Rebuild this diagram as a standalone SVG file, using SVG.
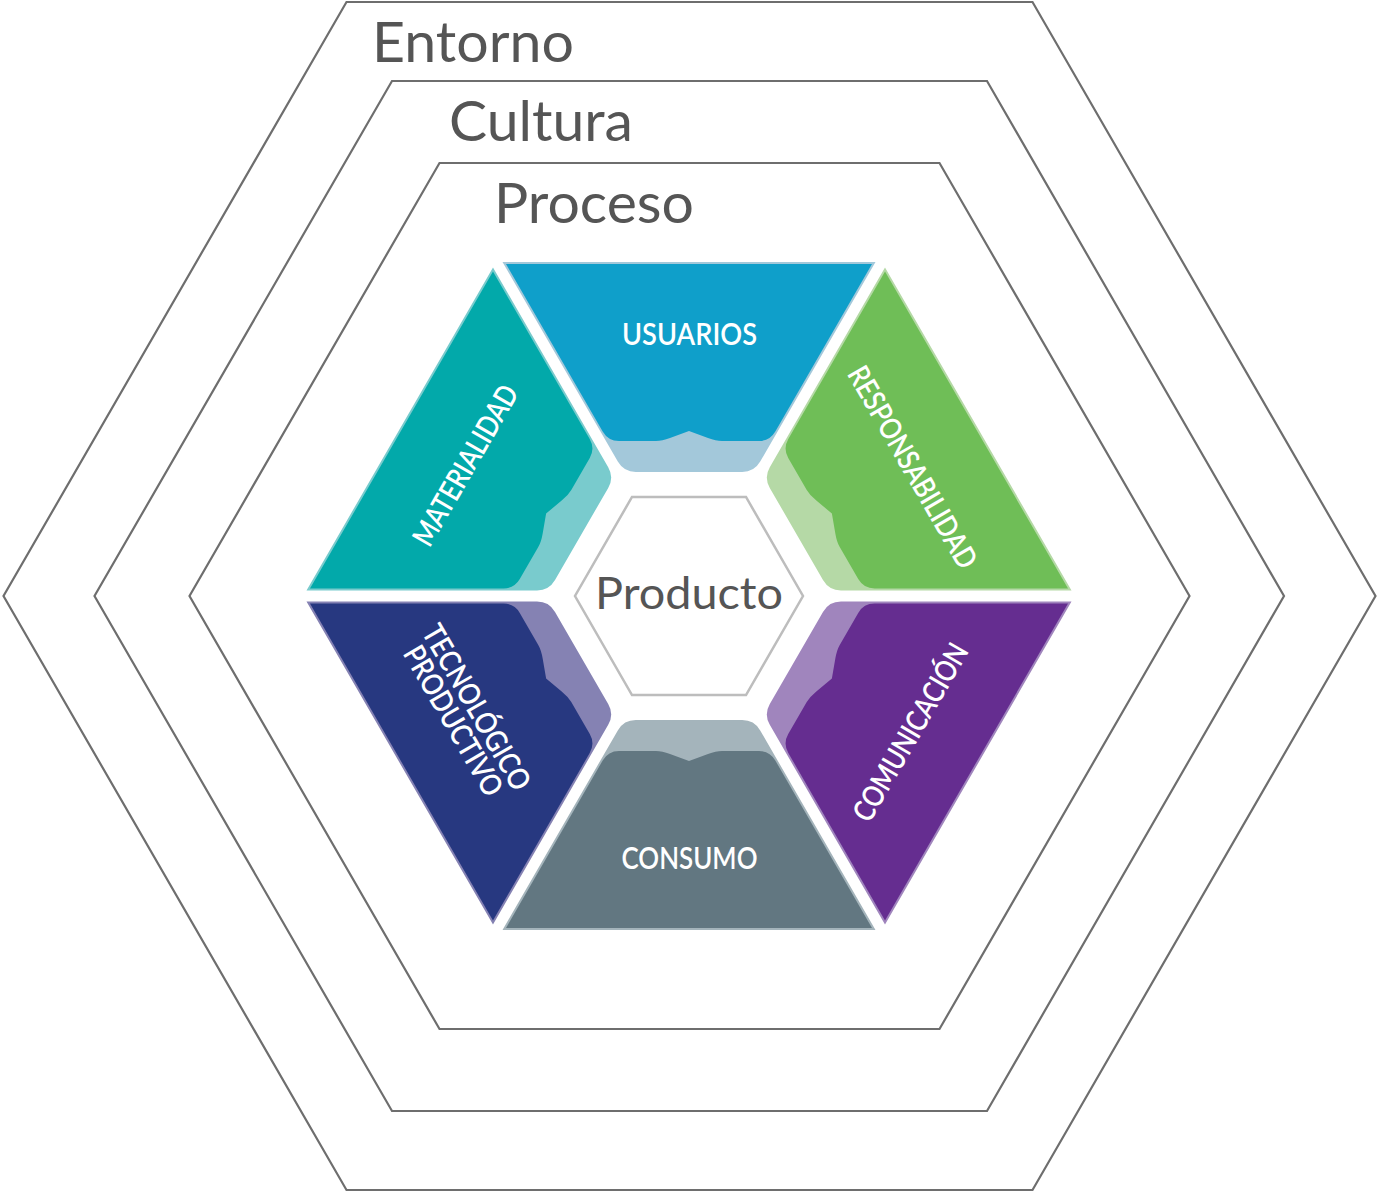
<svg xmlns="http://www.w3.org/2000/svg" xmlns:xlink="http://www.w3.org/1999/xlink" width="1377" height="1193" viewBox="0 0 1377 1193">
  <style>
    .ring { fill: none; stroke: #6e6e6e; stroke-width: 2.2; stroke-linejoin: miter; }
    .ring-label { font-family: Lato, "Liberation Sans", sans-serif; font-size: 56px; fill: #555555; }
    .seg-label { font-family: Lato, "Open Sans", "Liberation Sans", sans-serif; font-weight: 600; font-size: 30px; fill: #ffffff; }
    .core { fill: #ffffff; stroke: #bdbdbd; stroke-width: 2.5; }
    .core-label { font-family: Lato, "Liberation Sans", sans-serif; font-size: 45px; fill: #555555; }
  </style>
  <defs>
    <!-- Top segment of the coloured ring; the others are rotations of it about the centre (689,596) -->
    <path id="seg-back" d="M 502.5 262 L 875.5 262 L 760.2 461.6 Q 754.2 472 742.2 472 L 635.8 472 Q 623.8 472 617.8 461.6 Z"/>
    <path id="seg-front" d="M 506 264 L 872 264 L 775.3 431.5 Q 769.8 441 759 441 L 722 441 Q 716 441 708 438 L 689 431 L 670 438 Q 662 441 656 441 L 619 441 Q 608.2 441 602.7 431.5 Z"/>
  </defs>

  <rect x="0" y="0" width="1377" height="1193" fill="#ffffff"/>

  <!-- Concentric context layers -->
  <g id="entorno">
    <polygon class="ring" points="346.5,2 1032.5,2 1375.5,596 1032.5,1190 346.5,1190 3.5,596"/>
    <text class="ring-label" x="372" y="62" textLength="202" lengthAdjust="spacingAndGlyphs">Entorno</text>
  </g>
  <g id="cultura">
    <polygon class="ring" points="392,81 987,81 1284,596 987,1111 392,1111 94.5,596"/>
    <text class="ring-label" x="449" y="141" textLength="184" lengthAdjust="spacingAndGlyphs">Cultura</text>
  </g>
  <g id="proceso">
    <polygon class="ring" points="439.5,163 939.5,163 1189.5,596 939.5,1029 439.5,1029 189.5,596"/>
    <text class="ring-label" x="494" y="223" textLength="200" lengthAdjust="spacingAndGlyphs">Proceso</text>
  </g>

  <!-- Coloured ring segments -->
  <g id="usuarios">
    <use xlink:href="#seg-back" fill="#a3c8da"/>
    <use xlink:href="#seg-front" fill="#0f9fca"/>
    <text class="seg-label" x="689.5" y="345" text-anchor="middle" textLength="135" lengthAdjust="spacingAndGlyphs">USUARIOS</text>
  </g>
  <g id="responsabilidad">
    <use xlink:href="#seg-back" fill="#b5d9a6" transform="rotate(60 689 596)"/>
    <use xlink:href="#seg-front" fill="#6fbe57" transform="rotate(60 689 596)"/>
    <text class="seg-label" transform="translate(913 467) rotate(60)" x="0" y="11" text-anchor="middle" textLength="228" lengthAdjust="spacingAndGlyphs">RESPONSABILIDAD</text>
  </g>
  <g id="comunicacion">
    <use xlink:href="#seg-back" fill="#a085bd" transform="rotate(120 689 596)"/>
    <use xlink:href="#seg-front" fill="#652d90" transform="rotate(120 689 596)"/>
    <text class="seg-label" transform="translate(910 732) rotate(-60)" x="0" y="11" text-anchor="middle" textLength="200" lengthAdjust="spacingAndGlyphs">COMUNICACIÓN</text>
  </g>
  <g id="consumo">
    <use xlink:href="#seg-back" fill="#a4b4bb" transform="rotate(180 689 596)"/>
    <use xlink:href="#seg-front" fill="#627781" transform="rotate(180 689 596)"/>
    <text class="seg-label" x="689.5" y="869" text-anchor="middle" textLength="136" lengthAdjust="spacingAndGlyphs">CONSUMO</text>
  </g>
  <g id="tecnologico-productivo">
    <use xlink:href="#seg-back" fill="#8582b3" transform="rotate(240 689 596)"/>
    <use xlink:href="#seg-front" fill="#273880" transform="rotate(240 689 596)"/>
    <g transform="translate(465 714) rotate(60)">
      <text class="seg-label" x="0" y="-3" text-anchor="middle" textLength="186" lengthAdjust="spacingAndGlyphs">TECNOLÓGICO</text>
      <text class="seg-label" x="0" y="24" text-anchor="middle" textLength="168" lengthAdjust="spacingAndGlyphs">PRODUCTIVO</text>
    </g>
  </g>
  <g id="materialidad">
    <use xlink:href="#seg-back" fill="#79cbcd" transform="rotate(300 689 596)"/>
    <use xlink:href="#seg-front" fill="#02a9aa" transform="rotate(300 689 596)"/>
    <text class="seg-label" transform="translate(465 465) rotate(-60)" x="0" y="11" text-anchor="middle" textLength="180" lengthAdjust="spacingAndGlyphs">MATERIALIDAD</text>
  </g>

  <!-- Centre -->
  <g id="producto">
    <polygon class="core" points="632,497 746,497 803,596 746,695 632,695 575,596"/>
    <text class="core-label" x="595" y="609" textLength="188" lengthAdjust="spacingAndGlyphs">Producto</text>
  </g>
</svg>
